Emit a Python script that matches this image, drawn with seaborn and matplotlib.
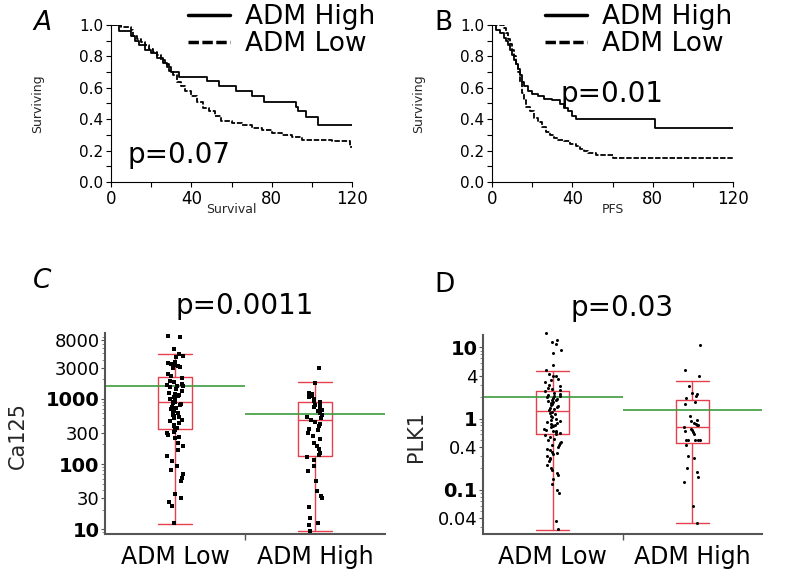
import numpy as np
import pandas as pd
import matplotlib
matplotlib.use("Agg")
import matplotlib.pyplot as plt
import seaborn as sns
from matplotlib.ticker import FixedLocator, FixedFormatter, MultipleLocator, NullFormatter, LogLocator

a_high_t = [0, 4, 10, 12, 14, 17, 20, 23, 26, 28, 30, 34, 48, 54, 62, 70, 76, 92, 93, 97, 103, 120]
a_high_s = [1.0, 0.96, 0.93, 0.90, 0.87, 0.84, 0.82, 0.79, 0.76, 0.73, 0.70, 0.67, 0.645, 0.61, 0.58,
            0.55, 0.51, 0.48, 0.45, 0.415, 0.36, 0.36]
a_low_t = [0, 5, 10, 11, 13, 15, 17, 19, 21, 23, 25, 27, 29, 31, 33, 35, 37, 40, 43, 46, 49, 52, 55,
           60, 65, 70, 75, 80, 85, 90, 95, 100, 110, 119, 120]
a_low_s = [1.0, 0.99, 0.97, 0.93, 0.91, 0.89, 0.87, 0.85, 0.83, 0.81, 0.78, 0.75, 0.71, 0.68, 0.64,
           0.61, 0.58, 0.55, 0.51, 0.47, 0.45, 0.42, 0.39, 0.375, 0.36, 0.345, 0.33, 0.315, 0.30,
           0.285, 0.27, 0.265, 0.26, 0.22, 0.22]

b_high_t = [0, 2, 4, 6, 7, 8, 9, 10, 11, 12, 13, 14, 15, 16, 18, 20, 23, 26, 30, 34, 36, 38, 40, 42, 81, 120]
b_high_s = [1.0, 0.97, 0.95, 0.92, 0.90, 0.87, 0.84, 0.81, 0.78, 0.75, 0.72, 0.68, 0.64, 0.61, 0.58,
            0.56, 0.545, 0.53, 0.52, 0.50, 0.47, 0.45, 0.42, 0.40, 0.345, 0.345]
b_low_t = [0, 6, 7, 8, 9, 10, 11, 12, 13, 14, 15, 16, 17, 19, 21, 23, 25, 27, 29, 31, 33, 36, 39, 42,
           44, 46, 48, 52, 58, 60, 120]
b_low_s = [1.0, 0.98, 0.95, 0.91, 0.88, 0.84, 0.80, 0.75, 0.70, 0.64, 0.57, 0.52, 0.48, 0.45, 0.41,
           0.38, 0.35, 0.32, 0.30, 0.28, 0.27, 0.26, 0.245, 0.23, 0.21, 0.195, 0.185, 0.175, 0.17,
           0.15, 0.15]

# ---- Ca125 / PLK1 values per group (panels C and D)
groups = ["ADM Low", "ADM High"]

ca125_low = [9300, 8800, 5900, 4800, 4500, 4300, 3700, 3500, 3400, 3300, 3200, 3100, 3000,
             2400, 2200, 2050, 1900, 1800, 1700, 1650, 1600, 1550, 1500, 1400, 1300, 1250, 1200,
             1150, 1100, 1050, 1000, 950, 900, 880, 850, 820, 800, 760, 720, 700, 650, 620, 600,
             570, 540, 520, 500, 480, 450, 420, 400, 380, 360, 330, 310, 300, 280, 260, 250,
             210, 190, 165, 135, 110, 95, 80, 70, 62, 55, 35, 30, 26, 23, 12.5]
ca125_high = [2980, 1750, 1250, 1200, 1150, 1100, 1050, 980, 920, 880, 840, 800, 760, 720, 680,
              640, 600, 560, 530, 500, 470, 440, 410, 380, 350, 330, 300, 270, 240, 210, 190,
              170, 150, 140, 130, 115, 95, 78, 56, 39, 32, 30, 22, 15, 12.5, 11.5, 9.5]

plk1_low = [15.9, 12.5, 11.8, 11.2, 9.1, 8.2, 5.7, 4.8, 4.2, 4.0, 3.9, 3.6, 3.5, 3.3, 3.0, 2.9,
            2.7, 2.6, 2.5, 2.4, 2.3, 2.2, 2.15, 2.1, 2.05, 2.0, 1.95, 1.9, 1.85, 1.8, 1.75, 1.7,
            1.65, 1.6, 1.55, 1.5, 1.45, 1.4, 1.35, 1.3, 1.25, 1.2, 1.15, 1.1, 1.05, 1.0, 0.97,
            0.93, 0.9, 0.87, 0.85, 0.82, 0.8, 0.78, 0.75, 0.72, 0.7, 0.68, 0.66, 0.64, 0.62, 0.6,
            0.58, 0.55, 0.52, 0.5, 0.47, 0.45, 0.43, 0.42, 0.4, 0.38, 0.36, 0.34, 0.33, 0.32,
            0.3, 0.28, 0.27, 0.25, 0.22, 0.2, 0.19, 0.17, 0.16, 0.14, 0.12, 0.1, 0.09, 0.037, 0.028]
plk1_high = [10.9, 4.8, 3.9, 2.9, 2.3, 2.2, 2.05, 1.95, 1.7, 1.6, 1.1, 0.95, 0.92, 0.88, 0.85,
             0.82, 0.8, 0.75, 0.72, 0.7, 0.67, 0.64, 0.6, 0.5, 0.5, 0.5, 0.5, 0.5, 0.42, 0.3,
             0.28, 0.2, 0.18, 0.15, 0.13, 0.06, 0.0345]

# box stats: [whisker low, Q1, median, Q3, whisker high]
ca125_box = [[12.2, 347, 890, 2130, 4800], [9.3, 133, 475, 910, 1800]]
ca125_mean = [1556, 592]
plk1_box = [[0.027, 0.60, 1.29, 2.42, 4.6], [0.034, 0.46, 0.76, 1.8, 3.35]]
plk1_mean = [2.0, 1.31]

ca125_ticks = [10, 30, 100, 300, 1000, 3000, 8000]
ca125_labels = ["10", "30", "100", "300", "1000", "3000", "8000"]
plk1_ticks = [0.04, 0.1, 0.4, 1, 4, 10]
plk1_labels = ["0.04", "0.1", "0.4", "1", "4", "10"]

sns.set_theme(style="white", rc={"axes.edgecolor": "black", "xtick.color": "black",
                                 "ytick.color": "black", "text.color": "black"})
plt.rcParams["font.family"] = ["DejaVu Sans"]

W, H = 791, 576
fig = plt.figure(figsize=(W / 100, H / 100), dpi=100)


def px_axes(left, top, right, bottom):
    return fig.add_axes([left / W, 1 - bottom / H, (right - left) / W, (bottom - top) / H])


def km_panel(ax, hi_t, hi_s, lo_t, lo_s, xlabel, legend_x):
    sns.lineplot(x=hi_t, y=hi_s, drawstyle="steps-post", estimator=None, color="black",
                 lw=1.3, ax=ax, label="ADM High")
    sns.lineplot(x=lo_t, y=lo_s, drawstyle="steps-post", estimator=None, color="black",
                 lw=1.3, ax=ax, label="ADM Low", linestyle=(0, (3, 1)))
    ax.set_xlim(0, 120)
    ax.set_ylim(0, 1)
    ax.xaxis.set_major_locator(MultipleLocator(40))
    ax.xaxis.set_minor_locator(MultipleLocator(20))
    ax.yaxis.set_major_locator(MultipleLocator(0.2))
    ax.yaxis.set_minor_locator(MultipleLocator(0.1))
    ax.yaxis.set_major_formatter(lambda v, p: f"{v:.1f}")
    ax.tick_params(which="both", direction="out", length=3.6, width=0.8, bottom=True, left=True)
    ax.tick_params(axis="y", labelsize=11, pad=2)
    ax.tick_params(axis="x", labelsize=12, pad=2)
    for s in ["top", "right"]:
        ax.spines[s].set_visible(False)
    for s in ["left", "bottom"]:
        ax.spines[s].set_linewidth(0.8)
    ax.set_ylabel("Surviving", fontsize=9)
    ax.yaxis.set_label_coords(-0.278, 0.5)
    ax.set_xlabel(xlabel, fontsize=9, va="top")
    ax.xaxis.set_label_coords(0.5, -0.135)
    ax.legend(loc="upper left", bbox_to_anchor=(legend_x / W, 1 - 4 / H),
              bbox_transform=fig.transFigure, frameon=False, fontsize=19,
              handlelength=1.6, handletextpad=0.55, labelspacing=0.05,
              borderpad=0, borderaxespad=0)
    for line in ax.get_legend().get_lines():
        line.set_linewidth(2.5)


def box_panel(ax, low, high, box, means, ticks, labels, ylabel, title, marker, msize, ylim, ylab_x):
    df = pd.DataFrame({"group": [groups[0]] * len(low) + [groups[1]] * len(high),
                       "value": low + high})
    np.random.seed(7)
    sns.stripplot(data=df, x="group", y="value", order=groups, color="black", marker=marker,
                  size=msize, jitter=0.06, linewidth=0, ax=ax, zorder=3)
    for c in ax.collections:
        c.set_clip_on(False)
    red = "#e5404c"
    stats = [dict(label=g, whislo=b[0], q1=b[1], med=b[2], q3=b[3], whishi=b[4], fliers=[])
             for g, b in zip(groups, box)]
    ax.bxp(stats, positions=[0, 1], widths=0.24, capwidths=0.24, showfliers=False,
           manage_ticks=False,
           boxprops=dict(color=red, lw=1), whiskerprops=dict(color=red, lw=1),
           capprops=dict(color=red, lw=1), medianprops=dict(color=red, lw=1))
    ax.hlines(means, [-0.5, 0.5], [0.5, 1.5], color="#3d9c3d", lw=1.2, zorder=2)
    ax.set_yscale("log")
    ax.set_ylim(*ylim)
    ax.set_xlim(-0.5, 1.5)
    ax.yaxis.set_major_locator(FixedLocator(ticks))
    ax.yaxis.set_major_formatter(FixedFormatter(labels))
    ax.yaxis.set_minor_locator(LogLocator(base=10, subs=np.arange(2, 10)))
    ax.yaxis.set_minor_formatter(NullFormatter())
    ax.set_xticks([0, 1])
    ax.set_xticklabels(groups)
    ax.set_xticks([0.5], minor=True)
    ax.tick_params(axis="x", which="major", length=0, pad=8, labelsize=17)
    ax.tick_params(axis="x", which="minor", length=4, width=1, bottom=True, color="#555555")
    ax.tick_params(axis="y", which="major", length=3, width=0.8, left=True, pad=1, labelsize=13,
                   color="#555555")
    ax.tick_params(axis="y", which="minor", length=2, width=0.6, left=True, color="#777777")
    for lab, v in zip(ax.get_yticklabels(), ticks):
        if np.isclose(np.log10(v), round(np.log10(v))):
            lab.set_fontweight("bold")
            lab.set_fontsize(14)
    for s in ["top", "right"]:
        ax.spines[s].set_visible(False)
    for s in ["left", "bottom"]:
        ax.spines[s].set_color("#555555")
        ax.spines[s].set_linewidth(1.5)
    ax.set_xlabel("")
    ax.set_ylabel(ylabel, fontsize=15)
    ax.yaxis.set_label_coords(ylab_x, 0.49)
    ax.set_title(title, fontsize=20, pad=14)


ax_a = px_axes(111, 25, 352, 182)
km_panel(ax_a, a_high_t, a_high_s, a_low_t, a_low_s, "Survival", 188)
ax_a.text(8, 0.12, "p=0.07", fontsize=20)

ax_b = px_axes(492, 25, 733, 182)
km_panel(ax_b, b_high_t, b_high_s, b_low_t, b_low_s, "PFS", 545)
ax_b.text(34, 0.51, "p=0.01", fontsize=20)

ax_c = px_axes(105, 333, 385, 534)
box_panel(ax_c, ca125_low, ca125_high, ca125_box, ca125_mean, ca125_ticks, ca125_labels,
          "Ca125", "p=0.0011", "s", 3.2, (8.5, 10200), -0.275)

ax_d = px_axes(483, 335, 762, 534)
box_panel(ax_d, plk1_low, plk1_high, plk1_box, plk1_mean, plk1_ticks, plk1_labels,
          "PLK1", "p=0.03", "o", 2.2, (0.024, 14.9), -0.205)

# panel letters
fig.text(42 / W, 1 - 23 / H, "A", fontsize=19, style="italic", ha="center", va="center")
fig.text(443 / W, 1 - 23 / H, "B", fontsize=19, ha="center", va="center")
fig.text(42 / W, 1 - 281 / H, "C", fontsize=19, style="italic", ha="center", va="center")
fig.text(445 / W, 1 - 285 / H, "D", fontsize=19, ha="center", va="center")

fig.savefig("out.png", dpi=100)
